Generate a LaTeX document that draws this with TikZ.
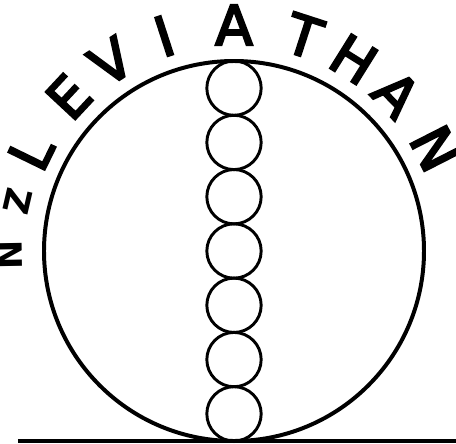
\documentclass[tikz,border=0pt]{standalone}
\usepackage{fontspec}
\setmainfont{DejaVu Sans}
\newfontfamily\rimfont[FakeBold=4]{DejaVu Sans}
\usetikzlibrary{calc}

\tikzset{
  bead/.style={draw, circle, line width=2.5pt, minimum size=1.63cm, inner sep=0pt},
  letter/.style={font=\rimfont\fontsize{47}{47}\selectfont, inner sep=0pt},
  smallletter/.style={font=\bfseries\fontsize{30}{30}\selectfont, inner sep=0pt},
}

\begin{document}
\begin{tikzpicture}[x=0.03cm, y=0.03cm]
  \clip (-234,-192) rectangle (222,251);
  \coordinate (O) at (0,0);
  \coordinate (Lend) at (-216,-190);
  \coordinate (Rend) at (222,-190);

  % ground line
  \draw[line width=2.6pt] (Lend) -- (Rend);
  % big circle
  \draw[line width=3.4pt] (O) circle (190);

  % chain of beads
  \foreach \i in {1,...,7}
    \node[bead] (b\i) at (0,{190-(2*\i-1)*190/7}) {};

  % lettering round the top
  \foreach \ch/\ang [count=\k] in {L/154, E/137, V/123, I/108, A/90, T/72, H/58, A/44, N/27}
    \node[letter, rotate=\ang-90] (t\k) at (\ang:226) {\ch};
  \node[smallletter, rotate=77] (z) at (167:222) {Z};
  \node[smallletter, rotate=91] (n) at (181:225) {N};
\end{tikzpicture}
\end{document}
